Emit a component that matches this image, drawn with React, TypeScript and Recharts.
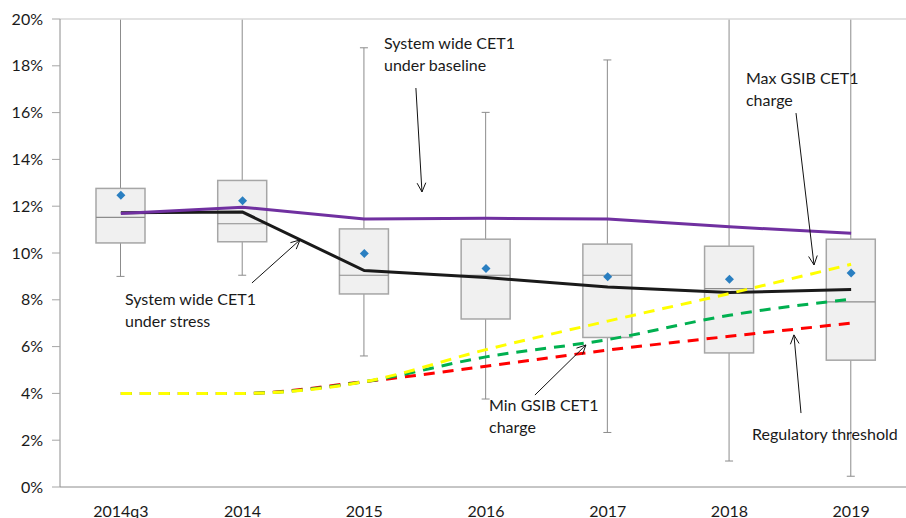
import { ComposedChart, Bar, Line, XAxis, YAxis, ReferenceLine, ReferenceDot } from 'recharts';

const categories = ['2014q3', '2014', '2015', '2016', '2017', '2018', '2019'];

// box plot of bank CET1 ratios (%), whisker tops above 20 run off the chart
const whiskerLow = [9.0, 9.05, 5.6, 3.76, 2.33, 1.11, 0.46];
const boxLow = [10.43, 10.48, 8.25, 7.18, 6.39, 5.73, 5.42];
const median = [11.52, 11.25, 9.05, 9.05, 9.05, 8.48, 7.91];
const boxHigh = [12.76, 13.1, 11.03, 10.59, 10.38, 10.29, 10.59];
const whiskerHigh = [22, 22, 18.77, 16.01, 18.25, 22, 22];
const mean = [12.47, 12.23, 9.98, 9.34, 8.98, 8.88, 9.15];

const baseline = [11.69, 11.96, 11.45, 11.48, 11.45, 11.12, 10.84];
const stress = [11.72, 11.75, 9.25, 8.95, 8.55, 8.31, 8.44];
const maxGsib = [4.0, 4.0, 4.5, 5.87, 7.09, 8.27, 9.52];
const minGsib = [4.0, 4.0, 4.5, 5.56, 6.3, 7.34, 8.03];
const threshold = [4.0, 4.0, 4.5, 5.16, 5.85, 6.44, 7.0];

const yTicks = [0, 2, 4, 6, 8, 10, 12, 14, 16, 18, 20];

// annotations in (category index, percent)
const labelText = [
  ['System wide CET1', 'under baseline'],
  ['System wide CET1', 'under stress'],
  ['Max GSIB CET1', 'charge'],
  ['Min GSIB CET1', 'charge'],
  ['Regulatory threshold'],
];
const labelAt = [
  [2.162, 18.97],
  [0.034, 8.03],
  [5.136, 17.48],
  [3.025, 3.5],
  [5.186, 2.26],
];
const arrowFrom = [
  [2.424, 17.05],
  [1.077, 8.72],
  [5.547, 15.98],
  [3.402, 3.93],
  [5.588, 3.16],
];
const arrowTo = [
  [2.474, 12.61],
  [1.472, 10.56],
  [5.695, 9.49],
  [3.821, 6.07],
  [5.53, 6.5],
];

const data = categories.map((name, i) => ({
  name,
  pos: i,
  range: [whiskerLow[i], whiskerHigh[i]],
  q1: boxLow[i],
  med: median[i],
  q3: boxHigh[i],
  mean: mean[i],
  baseline: baseline[i],
  stress: stress[i],
  maxGsib: maxGsib[i],
  minGsib: minGsib[i],
  threshold: threshold[i],
}));

const FONT = 'Lato, "Noto Sans", sans-serif';
const HALF_BAND = 852 / categories.length / 2;

function BoxShape(props: any) {
  const { x, y, width, height, payload } = props;
  const [lo, hi] = payload.range;
  const py = (v: number) => y + ((hi - v) / (hi - lo)) * height;
  const cx = x + width / 2;
  const top = py(payload.q3);
  const bottom = py(payload.q1);
  return (
    <g>
      <line x1={cx} x2={cx} y1={py(hi)} y2={top} stroke="#8c8c8c" strokeWidth={1} />
      <line x1={cx} x2={cx} y1={bottom} y2={py(lo)} stroke="#8c8c8c" strokeWidth={1} />
      <line x1={cx - 4} x2={cx + 4} y1={py(hi)} y2={py(hi)} stroke="#8c8c8c" strokeWidth={1} />
      <line x1={cx - 4} x2={cx + 4} y1={py(lo)} y2={py(lo)} stroke="#8c8c8c" strokeWidth={1} />
      <rect x={x} y={top} width={width} height={bottom - top} fill="#f0f0f0" stroke="#a6a6a6" strokeWidth={1.5} />
      <line x1={x} x2={x + width} y1={py(payload.med)} y2={py(payload.med)} stroke="#8c8c8c" strokeWidth={1.2} />
    </g>
  );
}

function Diamond(props: any) {
  const { cx, cy, index } = props;
  if (cx == null || cy == null) return <g key={index} />;
  const s = 4.5;
  return (
    <path
      key={index}
      d={`M${cx},${cy - s} L${cx + s},${cy} L${cx},${cy + s} L${cx - s},${cy} Z`}
      fill="#2a7fc1"
    />
  );
}

function Arrow(props: any) {
  const { x1, y1, x2, y2 } = props;
  const a = Math.atan2(y2 - y1, x2 - x1);
  const len = 10;
  const spread = 0.45;
  const hx1 = x2 - len * Math.cos(a - spread);
  const hy1 = y2 - len * Math.sin(a - spread);
  const hx2 = x2 - len * Math.cos(a + spread);
  const hy2 = y2 - len * Math.sin(a + spread);
  return (
    <g stroke="#111" strokeWidth={1} fill="none">
      <line x1={x1} y1={y1} x2={x2} y2={y2} />
      <polyline points={`${hx1},${hy1} ${x2},${y2} ${hx2},${hy2}`} />
    </g>
  );
}

function makeLabel(lines: string[]) {
  return (props: any) => {
    const { cx, cy } = props;
    return (
      <text x={cx} y={cy} fill="#1a1a1a" fontSize={16} fontFamily={FONT}>
        {lines.map((t, i) => (
          <tspan key={i} x={cx} dy={i === 0 ? '0.35em' : 22}>
            {t}
          </tspan>
        ))}
      </text>
    );
  };
}

export default function App() {
  return (
    <div
      style={{
        position: 'absolute',
        left: 0,
        top: 0,
        width: 906,
        height: 518,
        overflow: 'hidden',
        background: '#fff',
      }}
    >
      <ComposedChart width={920} height={518} data={data} margin={{ top: 19, right: 8, bottom: 1, left: 0 }}>
        <XAxis
          dataKey="name"
          height={30}
          tickSize={0}
          tickMargin={19}
          tickLine={false}
          axisLine={{ stroke: '#8c8c8c' }}
          tick={{ fill: '#1a1a1a', fontSize: 16, fontFamily: FONT }}
        />
        <XAxis
          xAxisId="num"
          dataKey="pos"
          type="number"
          domain={[0, categories.length - 1]}
          padding={{ left: HALF_BAND, right: HALF_BAND }}
          allowDataOverflow
          hide
        />
        <YAxis
          width={60}
          domain={[0, 20]}
          ticks={yTicks}
          allowDataOverflow
          tickFormatter={(v) => `${v}%`}
          tickSize={8}
          tickMargin={9}
          tickLine={{ stroke: '#a6a6a6' }}
          axisLine={{ stroke: '#8c8c8c' }}
          tick={{ fill: '#1a1a1a', fontSize: 16, fontFamily: FONT }}
        />
        <ReferenceLine y={20} stroke="#d9d9d9" strokeWidth={1.5} />
        <Bar dataKey="range" barSize={49} shape={BoxShape} isAnimationActive={false} legendType="none" />
        <Line
          dataKey="mean"
          stroke="none"
          dot={Diamond}
          activeDot={false}
          isAnimationActive={false}
          legendType="none"
        />
        <Line type="linear" dataKey="stress" stroke="#1a1a1a" strokeWidth={3} dot={false} isAnimationActive={false} />
        <Line type="linear" dataKey="baseline" stroke="#7030a0" strokeWidth={3} dot={false} isAnimationActive={false} />
        <Line
          type="monotone"
          dataKey="threshold"
          stroke="#ff0000"
          strokeWidth={3}
          strokeDasharray="11 8"
          dot={false}
          isAnimationActive={false}
        />
        <Line
          type="monotone"
          dataKey="minGsib"
          stroke="#00b050"
          strokeWidth={3}
          strokeDasharray="11 8"
          dot={false}
          isAnimationActive={false}
        />
        <Line
          type="monotone"
          dataKey="maxGsib"
          stroke="#ffff00"
          strokeWidth={3}
          strokeDasharray="11 8"
          dot={false}
          isAnimationActive={false}
        />
        {arrowFrom.map((f, i) => (
          <ReferenceLine
            key={`arrow-${i}`}
            xAxisId="num"
            segment={[
              { x: f[0], y: f[1] },
              { x: arrowTo[i][0], y: arrowTo[i][1] },
            ]}
            shape={Arrow}
          />
        ))}
        {labelAt.map((p, i) => (
          <ReferenceDot
            key={`label-${i}`}
            xAxisId="num"
            x={p[0]}
            y={p[1]}
            r={0}
            shape={makeLabel(labelText[i])}
          />
        ))}
      </ComposedChart>
    </div>
  );
}
